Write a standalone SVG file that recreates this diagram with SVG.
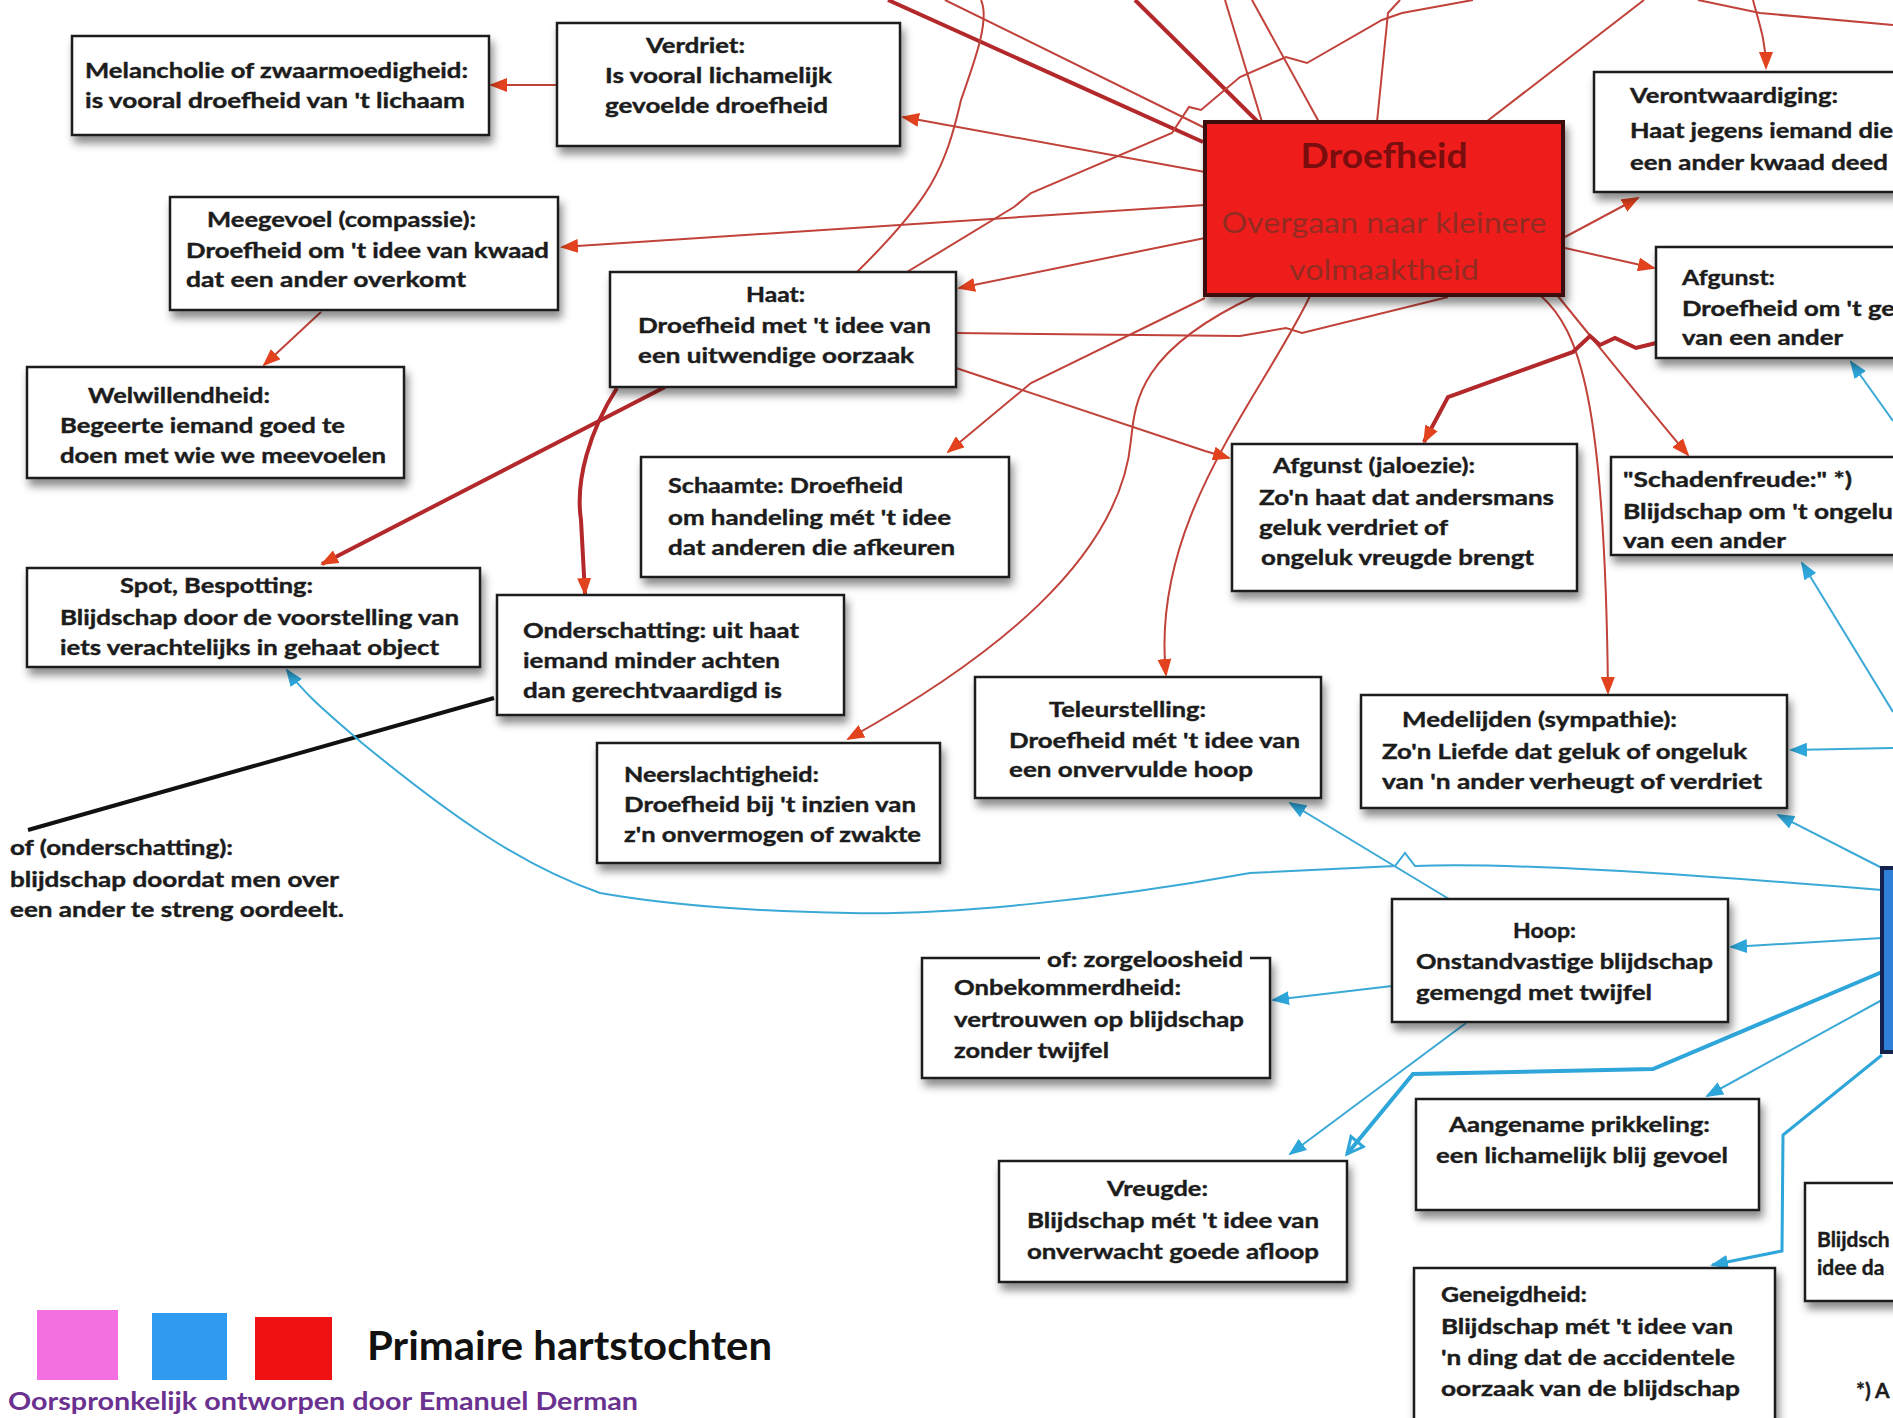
<svg xmlns="http://www.w3.org/2000/svg" width="1893" height="1418" viewBox="0 0 1893 1418">
<defs>
<filter id="sh" x="-10%" y="-10%" width="130%" height="140%"><feDropShadow dx="3" dy="7" stdDeviation="4" flood-color="#000" flood-opacity="0.45"/></filter>
<marker id="ar" markerUnits="userSpaceOnUse" markerWidth="18" markerHeight="14" refX="16" refY="7" orient="auto"><path d="M0,0 L18,7 L0,14 Z" fill="#e2421e"/></marker>
<marker id="ab" markerUnits="userSpaceOnUse" markerWidth="18" markerHeight="14" refX="16" refY="7" orient="auto"><path d="M0,0 L18,7 L0,14 Z" fill="#2ea6d9"/></marker>
<marker id="abo" markerUnits="userSpaceOnUse" markerWidth="22" markerHeight="20" refX="18" refY="10" orient="auto"><path d="M2,2 L18,10 L2,18 Z" fill="none" stroke="#2ea6d9" stroke-width="3"/></marker>
<style>
.box{fill:#fff;stroke:#1a1a1a;stroke-width:2.5;filter:url(#sh)}
.t{font-family:Lato,"Open Sans","DejaVu Sans",sans-serif;font-weight:700;font-size:21px;fill:#1c1c1c;stroke:#1c1c1c;stroke-width:0.4}
.r{fill:none;stroke:#c0423a;stroke-width:2}
.rt{fill:none;stroke:#b3282a;stroke-width:4}
.b{fill:none;stroke:#3aa9d6;stroke-width:2}
.bt{fill:none;stroke:#2ea6d9;stroke-width:4}
.sub{font-family:Lato,"Open Sans",sans-serif;font-size:28px;fill:#922c22}
</style>
</defs>
<rect width="1893" height="1418" fill="#fff"/>

<g id="connectors">
<path class="rt" d="M888,0 L1203,142"/>
<path class="rt" d="M1135,0 L1258,122"/>
<path class="r" d="M945,0 L1205,128"/>
<path class="r" d="M981,0 C990,20 975,60 961,100 C945,170 930,200 857,272"/>
<path class="r" d="M907,272 L1014,207 L1031,193 L1172,133 L1189,107 L1201,110 L1240,77 L1286,57 L1307,63 L1382,20 L1402,13 L1473,0"/>
<path class="r" d="M1225,0 L1262,122"/>
<path class="r" d="M1252,0 L1319,122"/>
<path class="r" d="M1400,0 L1388,13 L1377,122"/>
<path class="r" d="M1486,122 L1644,0"/>
<path class="r" d="M1698,0 L1760,13 L1893,25"/>
<path class="r" d="M1753,0 C1758,20 1766,40 1766,68" marker-end="url(#ar)"/>
<path class="r" d="M557,85 L491,85" marker-end="url(#ar)"/>
<path class="r" d="M1205,172 L903,117" marker-end="url(#ar)"/>
<path class="r" d="M1205,205 L562,247" marker-end="url(#ar)"/>
<path class="r" d="M1205,238 L959,288" marker-end="url(#ar)"/>
<path class="r" d="M1205,298 L1031,383 L948,452" marker-end="url(#ar)"/>
<path class="r" d="M1255,296 C1140,350 1135,400 1131,440 C1120,560 990,660 848,739" marker-end="url(#ar)"/>
<path class="r" d="M1310,296 C1260,400 1150,520 1166,675" marker-end="url(#ar)"/>
<path class="r" d="M1540,295 C1580,330 1605,400 1608,693" marker-end="url(#ar)"/>
<path class="r" d="M1557,295 C1610,360 1650,410 1688,455" marker-end="url(#ar)"/>
<path class="r" d="M1565,237 L1638,198" marker-end="url(#ar)"/>
<path class="r" d="M1565,248 L1654,268" marker-end="url(#ar)"/>
<path class="rt" d="M1656,343 L1636,348 L1615,338 L1600,345 L1590,336 L1573,352 L1448,397 L1424,442" marker-end="url(#ar)"/>
<path class="r" d="M956,368 L1205,451 L1229,458" marker-end="url(#ar)"/>
<path class="r" d="M956,333 L1240,336 L1286,328 L1302,333 L1448,297"/>
<path class="rt" d="M665,387 L322,564" marker-end="url(#ar)"/>
<path class="rt" d="M617,388 C590,430 575,480 581,520 L585,594" marker-end="url(#ar)"/>
<path class="r" d="M321,312 L264,365" marker-end="url(#ar)"/>
<path d="M494,698 L28,830" fill="none" stroke="#111" stroke-width="4"/>
<path class="b" d="M1882,890 C1700,875 1500,862 1415,866 L1405,853 L1395,866 L1250,873 C1100,900 950,915 850,913 C720,911 640,900 600,893 C520,865 450,815 362,743 C330,715 305,695 287,670" marker-end="url(#ab)"/>
<path class="b" d="M1893,748 L1791,750" marker-end="url(#ab)"/>
<path class="b" d="M1882,868 L1778,815" marker-end="url(#ab)"/>
<path class="b" d="M1893,712 L1802,563" marker-end="url(#ab)"/>
<path class="b" d="M1893,421 L1851,362" marker-end="url(#ab)"/>
<path class="b" d="M1449,899 L1290,803" marker-end="url(#ab)"/>
<path class="b" d="M1882,938 L1731,947" marker-end="url(#ab)"/>
<path class="b" d="M1392,986 L1273,1000" marker-end="url(#ab)"/>
<path class="b" d="M1466,1023 L1290,1154" marker-end="url(#ab)"/>
<path class="bt" d="M1882,972 L1653,1069 L1413,1074 L1347,1154" marker-end="url(#abo)"/>
<path class="b" d="M1882,1000 L1707,1096" marker-end="url(#ab)"/>
<path class="bt" style="stroke-width:3" d="M1882,1055 L1783,1135 L1782,1251 L1712,1265" marker-end="url(#ab)"/>
</g>

<g id="droefheid">
<rect x="1205" y="122" width="358" height="173" fill="#ef1b1b" stroke="#3a0808" stroke-width="4" filter="url(#sh)"/>
<text x="1384" y="168" text-anchor="middle" font-family="Lato,'Open Sans',sans-serif" font-weight="700" font-size="34" fill="#7a0d0d" textLength="167" lengthAdjust="spacingAndGlyphs">Droefheid</text>
<text class="sub" x="1384" y="233" text-anchor="middle" textLength="325" lengthAdjust="spacingAndGlyphs">Overgaan naar kleinere</text>
<text class="sub" x="1384" y="280" text-anchor="middle" textLength="190" lengthAdjust="spacingAndGlyphs">volmaaktheid</text>
</g>

<g id="blijdschap">
<rect x="1882" y="868" width="40" height="184" fill="#2f80d8" stroke="#14224e" stroke-width="4"/>
</g>

<g id="melancholie">
<rect class="box" x="72" y="36" width="417" height="99"/>
<text class="t" x="85" y="78" textLength="383" lengthAdjust="spacingAndGlyphs">Melancholie of zwaarmoedigheid:</text>
<text class="t" x="85" y="108" textLength="380" lengthAdjust="spacingAndGlyphs">is vooral droefheid van 't lichaam</text>
</g>

<g id="verdriet">
<rect class="box" x="557" y="23" width="343" height="123"/>
<text class="t" x="646" y="53" textLength="99" lengthAdjust="spacingAndGlyphs">Verdriet:</text>
<text class="t" x="605" y="83" textLength="227" lengthAdjust="spacingAndGlyphs">Is vooral lichamelijk</text>
<text class="t" x="605" y="113" textLength="223" lengthAdjust="spacingAndGlyphs">gevoelde droefheid</text>
</g>

<g id="meegevoel">
<rect class="box" x="170" y="197" width="388" height="113"/>
<text class="t" x="207" y="227" textLength="269" lengthAdjust="spacingAndGlyphs">Meegevoel (compassie):</text>
<text class="t" x="186" y="258" textLength="363" lengthAdjust="spacingAndGlyphs">Droefheid om 't idee van kwaad</text>
<text class="t" x="186" y="287" textLength="280" lengthAdjust="spacingAndGlyphs">dat een ander overkomt</text>
</g>

<g id="welwillendheid">
<rect class="box" x="27" y="367" width="377" height="111"/>
<text class="t" x="88" y="403" textLength="182" lengthAdjust="spacingAndGlyphs">Welwillendheid:</text>
<text class="t" x="60" y="433" textLength="285" lengthAdjust="spacingAndGlyphs">Begeerte iemand goed te</text>
<text class="t" x="60" y="463" textLength="326" lengthAdjust="spacingAndGlyphs">doen met wie we meevoelen</text>
</g>

<g id="haat">
<rect class="box" x="610" y="272" width="346" height="115"/>
<text class="t" x="746" y="302" textLength="59" lengthAdjust="spacingAndGlyphs">Haat:</text>
<text class="t" x="638" y="333" textLength="293" lengthAdjust="spacingAndGlyphs">Droefheid met 't idee van</text>
<text class="t" x="638" y="363" textLength="276" lengthAdjust="spacingAndGlyphs">een uitwendige oorzaak</text>
</g>

<g id="schaamte">
<rect class="box" x="641" y="457" width="368" height="120"/>
<text class="t" x="668" y="493" textLength="235" lengthAdjust="spacingAndGlyphs">Schaamte: Droefheid</text>
<text class="t" x="668" y="525" textLength="283" lengthAdjust="spacingAndGlyphs">om handeling mét 't idee</text>
<text class="t" x="668" y="555" textLength="287" lengthAdjust="spacingAndGlyphs">dat anderen die afkeuren</text>
</g>

<g id="spot">
<rect class="box" x="27" y="568" width="453" height="99"/>
<text class="t" x="120" y="593" textLength="193" lengthAdjust="spacingAndGlyphs">Spot, Bespotting:</text>
<text class="t" x="60" y="625" textLength="399" lengthAdjust="spacingAndGlyphs">Blijdschap door de voorstelling van</text>
<text class="t" x="60" y="655" textLength="379" lengthAdjust="spacingAndGlyphs">iets verachtelijks in gehaat object</text>
</g>

<g id="onderschatting">
<rect class="box" x="497" y="595" width="347" height="120"/>
<text class="t" x="523" y="638" textLength="276" lengthAdjust="spacingAndGlyphs">Onderschatting: uit haat</text>
<text class="t" x="523" y="668" textLength="257" lengthAdjust="spacingAndGlyphs">iemand minder achten</text>
<text class="t" x="523" y="698" textLength="259" lengthAdjust="spacingAndGlyphs">dan gerechtvaardigd is</text>
</g>

<g id="neerslachtigheid">
<rect class="box" x="597" y="743" width="343" height="120"/>
<text class="t" x="624" y="782" textLength="195" lengthAdjust="spacingAndGlyphs">Neerslachtigheid:</text>
<text class="t" x="624" y="812" textLength="292" lengthAdjust="spacingAndGlyphs">Droefheid bij 't inzien van</text>
<text class="t" x="624" y="842" textLength="297" lengthAdjust="spacingAndGlyphs">z'n onvermogen of zwakte</text>
</g>

<g id="of-onderschatting">
<text class="t" x="10" y="855" textLength="223" lengthAdjust="spacingAndGlyphs">of (onderschatting):</text>
<text class="t" x="10" y="887" textLength="329" lengthAdjust="spacingAndGlyphs">blijdschap doordat men over</text>
<text class="t" x="10" y="917" textLength="334" lengthAdjust="spacingAndGlyphs">een ander te streng oordeelt.</text>
</g>

<g id="teleurstelling">
<rect class="box" x="975" y="677" width="346" height="121"/>
<text class="t" x="1049" y="717" textLength="157" lengthAdjust="spacingAndGlyphs">Teleurstelling:</text>
<text class="t" x="1009" y="748" textLength="291" lengthAdjust="spacingAndGlyphs">Droefheid mét 't idee van</text>
<text class="t" x="1009" y="777" textLength="244" lengthAdjust="spacingAndGlyphs">een onvervulde hoop</text>
</g>

<g id="afgunst-jaloezie">
<rect class="box" x="1232" y="444" width="345" height="147"/>
<text class="t" x="1273" y="473" textLength="202" lengthAdjust="spacingAndGlyphs">Afgunst (jaloezie):</text>
<text class="t" x="1259" y="505" textLength="295" lengthAdjust="spacingAndGlyphs">Zo'n haat dat andersmans</text>
<text class="t" x="1259" y="535" textLength="189" lengthAdjust="spacingAndGlyphs">geluk verdriet of</text>
<text class="t" x="1261" y="565" textLength="273" lengthAdjust="spacingAndGlyphs">ongeluk vreugde brengt</text>
</g>

<g id="medelijden">
<rect class="box" x="1361" y="695" width="426" height="113"/>
<text class="t" x="1402" y="727" textLength="275" lengthAdjust="spacingAndGlyphs">Medelijden (sympathie):</text>
<text class="t" x="1382" y="759" textLength="365" lengthAdjust="spacingAndGlyphs">Zo'n Liefde dat geluk of ongeluk</text>
<text class="t" x="1382" y="789" textLength="380" lengthAdjust="spacingAndGlyphs">van 'n ander verheugt of verdriet</text>
</g>

<g id="schadenfreude">
<rect class="box" x="1611" y="457" width="320" height="98"/>
<text class="t" x="1623" y="487" textLength="229" lengthAdjust="spacingAndGlyphs">"Schadenfreude:" *)</text>
<text class="t" x="1623" y="519" textLength="284" lengthAdjust="spacingAndGlyphs">Blijdschap om 't ongeluk</text>
<text class="t" x="1623" y="548" textLength="163" lengthAdjust="spacingAndGlyphs">van een ander</text>
</g>

<g id="verontwaardiging">
<rect class="box" x="1594" y="72" width="340" height="120"/>
<text class="t" x="1630" y="103" textLength="208" lengthAdjust="spacingAndGlyphs">Verontwaardiging:</text>
<text class="t" x="1630" y="138" textLength="263" lengthAdjust="spacingAndGlyphs">Haat jegens iemand die</text>
<text class="t" x="1630" y="170" textLength="258" lengthAdjust="spacingAndGlyphs">een ander kwaad deed</text>
</g>

<g id="afgunst">
<rect class="box" x="1656" y="247" width="280" height="111"/>
<text class="t" x="1682" y="285" textLength="93" lengthAdjust="spacingAndGlyphs">Afgunst:</text>
<text class="t" x="1682" y="316" textLength="213" lengthAdjust="spacingAndGlyphs">Droefheid om 't ge</text>
<text class="t" x="1682" y="345" textLength="161" lengthAdjust="spacingAndGlyphs">van een ander</text>
</g>

<g id="hoop">
<rect class="box" x="1392" y="899" width="336" height="123"/>
<text class="t" x="1513" y="938" textLength="63" lengthAdjust="spacingAndGlyphs">Hoop:</text>
<text class="t" x="1416" y="969" textLength="297" lengthAdjust="spacingAndGlyphs">Onstandvastige blijdschap</text>
<text class="t" x="1416" y="1000" textLength="236" lengthAdjust="spacingAndGlyphs">gemengd met twijfel</text>
</g>

<g id="onbekommerdheid">
<rect class="box" x="922" y="958" width="348" height="120"/>
<rect x="1040" y="950" width="210" height="14" fill="#fff"/>
<text class="t" x="1047" y="967" textLength="196" lengthAdjust="spacingAndGlyphs">of: zorgeloosheid</text>
<text class="t" x="954" y="995" textLength="227" lengthAdjust="spacingAndGlyphs">Onbekommerdheid:</text>
<text class="t" x="954" y="1027" textLength="290" lengthAdjust="spacingAndGlyphs">vertrouwen op blijdschap</text>
<text class="t" x="954" y="1058" textLength="155" lengthAdjust="spacingAndGlyphs">zonder twijfel</text>
</g>

<g id="vreugde">
<rect class="box" x="999" y="1161" width="348" height="121"/>
<text class="t" x="1107" y="1196" textLength="101" lengthAdjust="spacingAndGlyphs">Vreugde:</text>
<text class="t" x="1027" y="1228" textLength="292" lengthAdjust="spacingAndGlyphs">Blijdschap mét 't idee van</text>
<text class="t" x="1027" y="1259" textLength="292" lengthAdjust="spacingAndGlyphs">onverwacht goede afloop</text>
</g>

<g id="aangename-prikkeling">
<rect class="box" x="1416" y="1099" width="343" height="111"/>
<text class="t" x="1449" y="1132" textLength="261" lengthAdjust="spacingAndGlyphs">Aangename prikkeling:</text>
<text class="t" x="1436" y="1163" textLength="292" lengthAdjust="spacingAndGlyphs">een lichamelijk blij gevoel</text>
</g>

<g id="geneigdheid">
<rect class="box" x="1414" y="1268" width="361" height="170"/>
<text class="t" x="1441" y="1302" textLength="146" lengthAdjust="spacingAndGlyphs">Geneigdheid:</text>
<text class="t" x="1441" y="1334" textLength="292" lengthAdjust="spacingAndGlyphs">Blijdschap mét 't idee van</text>
<text class="t" x="1441" y="1365" textLength="294" lengthAdjust="spacingAndGlyphs">'n ding dat de accidentele</text>
<text class="t" x="1441" y="1396" textLength="299" lengthAdjust="spacingAndGlyphs">oorzaak van  de blijdschap</text>
</g>

<g id="partial-box">
<rect class="box" x="1805" y="1183" width="130" height="118"/>
<text class="t" x="1817" y="1247">Blijdsch</text>
<text class="t" x="1817" y="1275">idee da</text>
</g>

<g id="footnote">
<text class="t" x="1856" y="1398">*) A</text>
</g>

<g id="legend">
<rect x="37" y="1310" width="81" height="70" fill="#f46fe2"/>
<rect x="152" y="1313" width="75" height="67" fill="#2f9bf0"/>
<rect x="255" y="1317" width="77" height="63" fill="#f01212"/>
<text x="367" y="1360" font-family="Lato,'Open Sans',sans-serif" font-weight="700" font-size="40" fill="#111" textLength="405" lengthAdjust="spacingAndGlyphs">Primaire hartstochten</text>
<text x="8" y="1410" font-family="Lato,'Open Sans',sans-serif" font-weight="700" font-size="24" fill="#6a3190" textLength="630" lengthAdjust="spacingAndGlyphs">Oorspronkelijk ontworpen door Emanuel Derman</text>
</g>
</svg>
